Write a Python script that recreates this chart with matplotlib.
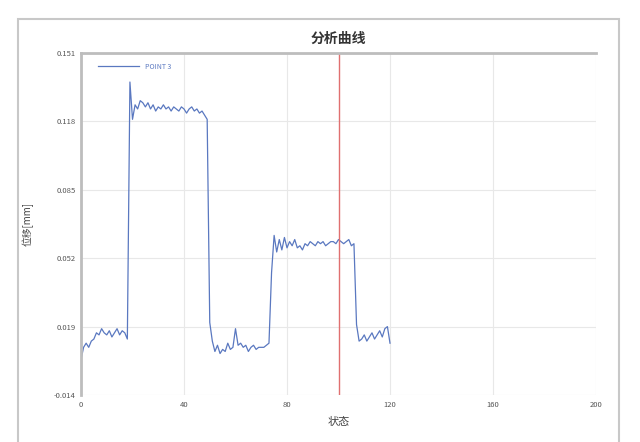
import numpy as np
import matplotlib
matplotlib.use("Agg")
import matplotlib.pyplot as plt
from matplotlib.patches import Rectangle

plt.rcParams["font.family"] = ["Noto Sans CJK SC", "DejaVu Sans"]

# 数据
x_vals = list(range(0, 121))
point3 = [
    0.003, 0.009, 0.011, 0.009, 0.012, 0.013, 0.016, 0.015, 0.018, 0.016,
    0.015, 0.017, 0.014, 0.016, 0.018, 0.015, 0.017, 0.016, 0.013, 0.137,
    0.119, 0.126, 0.124, 0.128, 0.127, 0.125, 0.127, 0.124, 0.126, 0.123,
    0.125, 0.124, 0.126, 0.124, 0.125, 0.123, 0.125, 0.124, 0.123, 0.125,
    0.124, 0.122, 0.124, 0.125, 0.123, 0.124, 0.122, 0.123, 0.121, 0.119,
    0.021, 0.012, 0.007, 0.010, 0.006, 0.008, 0.007, 0.011, 0.008, 0.009,
    0.018, 0.010, 0.011, 0.009, 0.010, 0.007, 0.009, 0.010, 0.008, 0.009,
    0.009, 0.009, 0.010, 0.011, 0.045, 0.063, 0.055, 0.061, 0.056, 0.062,
    0.057, 0.060, 0.058, 0.061, 0.057, 0.058, 0.056, 0.059, 0.058, 0.060,
    0.059, 0.058, 0.060, 0.059, 0.060, 0.058, 0.059, 0.060, 0.060, 0.059,
    0.061, 0.060, 0.059, 0.060, 0.061, 0.058, 0.059, 0.020, 0.012, 0.013,
    0.015, 0.012, 0.014, 0.016, 0.013, 0.015, 0.017, 0.014, 0.018, 0.019,
    0.011,
]
x_ticks = [0, 40, 80, 120, 160, 200]
y_ticks = [-0.014, 0.019, 0.052, 0.085, 0.118, 0.151]
marker_x = 100

fig = plt.figure(figsize=(6.4, 4.42), dpi=100)
fig.patch.set_facecolor("white")

# 外框
fig.patches.append(Rectangle((18 / 640, -0.01), 601 / 640, 1 - 19 / 442 + 0.01,
                             transform=fig.transFigure, fill=False,
                             edgecolor="#c8c8c8", linewidth=1.5))

ax = fig.add_axes([81 / 640, 1 - 395 / 442, 515 / 640, 342 / 442])
ax.plot(x_vals, point3, color="#5a78c0", linewidth=0.9, label="POINT 3")
ax.axvline(marker_x, color="#e07070", linewidth=1.0)

ax.set_xlim(0, 200)
ax.set_ylim(-0.014, 0.151)
ax.set_xticks(x_ticks)
ax.set_yticks(y_ticks)
ax.set_yticklabels([f"{v:.3f}" for v in y_ticks])
ax.tick_params(labelsize=5.5, length=0, colors="#555555", pad=4)
ax.grid(True, color="#e8e8e8", linewidth=0.8)

for side in ["bottom", "right"]:
    ax.spines[side].set_visible(False)
for side in ["left", "top"]:
    ax.spines[side].set_color("#bdbdbd")
    ax.spines[side].set_linewidth(2.0)

ax.set_title("分析曲线", fontsize=10, fontweight="bold", color="#333333", pad=7)
ax.set_xlabel("状态", fontsize=8, color="#444444", labelpad=6)
ax.set_ylabel("位移[mm]", fontsize=7, color="#444444", labelpad=14)

leg = ax.legend(loc="upper left", frameon=False, fontsize=5, handlelength=6,
                bbox_to_anchor=(0.02, 0.99), labelcolor="#5a78c0")

plt.savefig("out.png", dpi=100)
